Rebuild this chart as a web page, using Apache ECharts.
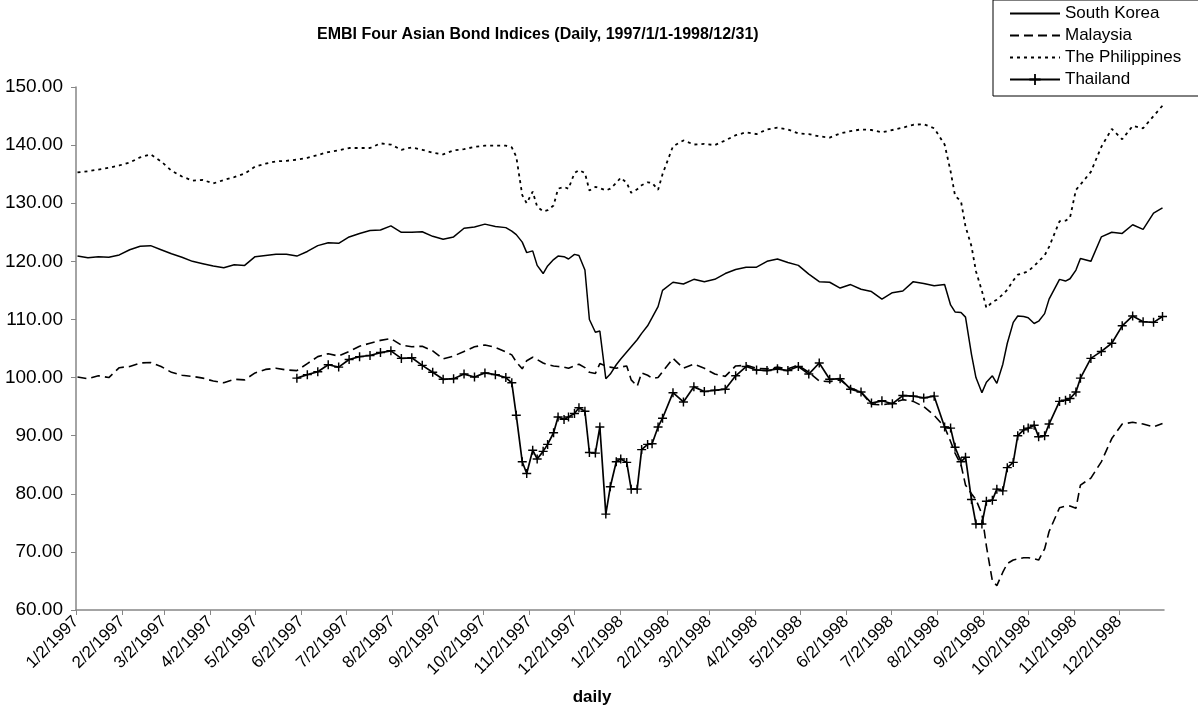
<!DOCTYPE html>
<html>
<head>
<meta charset="utf-8">
<title>EMBI Four Asian Bond Indices</title>
<script src="https://cdn.jsdelivr.net/npm/echarts@6/dist/echarts.min.js"></script>
<style>
  html, body { margin: 0; padding: 0; background: #fff; }
  #chart { width: 1198px; height: 711px; }
</style>
</head>
<body>
<div id="chart"></div>
<script>
// sample dates (weekly, twice a week in the two crash periods)
var dates = [
  '1997-01-03', '1997-01-10', '1997-01-17', '1997-01-24', '1997-01-31', '1997-02-07', '1997-02-14', '1997-02-21', '1997-02-28', '1997-03-07',
  '1997-03-14', '1997-03-21', '1997-03-28', '1997-04-04', '1997-04-11', '1997-04-18', '1997-04-25', '1997-05-02', '1997-05-09', '1997-05-16',
  '1997-05-23', '1997-05-30', '1997-06-06', '1997-06-13', '1997-06-20', '1997-06-27', '1997-07-04', '1997-07-11', '1997-07-18', '1997-07-25',
  '1997-08-01', '1997-08-08', '1997-08-15', '1997-08-22', '1997-08-29', '1997-09-05', '1997-09-12', '1997-09-19', '1997-09-26', '1997-10-03',
  '1997-10-10', '1997-10-17',
  '1997-10-21', '1997-10-24', '1997-10-28', '1997-10-31', '1997-11-04', '1997-11-07', '1997-11-11', '1997-11-14', '1997-11-18', '1997-11-21',
  '1997-11-25', '1997-11-28', '1997-12-02', '1997-12-05', '1997-12-09', '1997-12-12', '1997-12-16', '1997-12-19', '1997-12-23', '1997-12-26',
  '1997-12-30', '1998-01-02', '1998-01-06', '1998-01-09', '1998-01-13', '1998-01-16', '1998-01-20', '1998-01-23', '1998-01-27', '1998-01-30',
  '1998-02-06', '1998-02-13', '1998-02-20', '1998-02-27', '1998-03-06', '1998-03-13', '1998-03-20', '1998-03-27', '1998-04-03', '1998-04-10',
  '1998-04-17', '1998-04-24', '1998-05-01', '1998-05-08', '1998-05-15', '1998-05-22', '1998-05-29', '1998-06-05', '1998-06-12', '1998-06-19',
  '1998-06-26', '1998-07-03', '1998-07-10', '1998-07-17', '1998-07-24', '1998-07-31', '1998-08-07',
  '1998-08-11', '1998-08-14', '1998-08-18', '1998-08-21', '1998-08-25', '1998-08-28', '1998-09-01', '1998-09-04', '1998-09-08', '1998-09-11',
  '1998-09-15', '1998-09-18', '1998-09-22', '1998-09-25', '1998-09-29', '1998-10-02', '1998-10-06', '1998-10-09', '1998-10-13', '1998-10-16',
  '1998-10-23', '1998-10-27', '1998-10-30', '1998-11-03', '1998-11-06', '1998-11-13', '1998-11-20', '1998-11-27', '1998-12-04', '1998-12-11',
  '1998-12-18', '1998-12-25', '1998-12-31'
];

var southKorea = [
  120.9, 120.6, 120.8, 120.7, 121.1, 122.0, 122.6, 122.7, 122.0, 121.3,
  120.7, 120.0, 119.6, 119.2, 118.9, 119.4, 119.3, 120.8, 121.0, 121.2,
  121.2, 120.9, 121.7, 122.7, 123.2, 123.1, 124.2, 124.8, 125.3, 125.4,
  126.1, 125.0, 125.0, 125.1, 124.3, 123.8, 124.2, 125.7, 125.9, 126.4,
  126.0, 125.8,
  125.2, 124.6, 123.3, 121.5, 121.8, 119.3, 117.9, 119.2, 120.3, 120.9,
  120.8, 120.4, 121.2, 121.0, 118.5, 110.0, 107.8, 108.0, 99.8, 100.6,
  102.2, 103.2, 104.4, 105.3, 106.5, 107.6, 108.9, 110.3, 112.2, 115.0,
  116.4, 116.1, 116.9, 116.5, 116.9, 117.9, 118.6, 119.0, 119.0, 120.0,
  120.4, 119.8, 119.3, 117.8, 116.5, 116.4, 115.4, 116.0, 115.2, 114.8,
  113.5, 114.6, 114.9, 116.5, 116.2, 115.8, 116.0,
  112.5, 111.3, 111.2, 110.4, 104.0, 100.0, 97.4, 99.2, 100.3, 99.0,
  102.3, 105.9, 109.5, 110.6, 110.5, 110.3, 109.3, 109.7, 111.0, 113.5,
  116.9, 116.6, 117.0, 118.5, 120.5, 120.0, 124.2, 125.0, 124.8, 126.3,
  125.5, 128.3, 129.2
];

var malaysia = [
  100.1, 99.8, 100.3, 100.0, 101.7, 101.9, 102.5, 102.6, 101.9, 100.9,
  100.4, 100.2, 99.9, 99.4, 99.1, 99.7, 99.6, 100.8, 101.4, 101.6,
  101.3, 101.2, 102.4, 103.6, 104.1, 103.7, 104.5, 105.4, 105.9, 106.4,
  106.7, 105.6, 105.3, 105.4, 104.6, 103.2, 103.7, 104.5, 105.3, 105.6,
  105.2, 104.4,
  103.9, 102.7, 101.5, 102.9, 103.5, 103.1, 102.5, 102.2, 102.0, 101.9,
  101.8, 101.6, 102.0, 102.3, 101.7, 100.9, 100.7, 102.4, 102.0, 101.8,
  101.6, 101.8, 102.0, 99.6, 98.5, 100.8, 100.4, 99.9, 100.0, 101.0,
  103.3, 101.6, 102.3, 101.6, 100.6, 100.2, 102.0, 102.1, 101.6, 101.5,
  101.8, 101.5, 102.1, 100.9, 99.4, 99.3, 99.6, 98.2, 97.5, 95.4,
  95.3, 95.6, 96.2, 95.9, 95.0, 93.5, 91.5,
  89.0, 87.0, 85.0, 81.5, 80.0, 79.0, 76.5, 71.0, 65.0, 64.2,
  66.5, 68.0, 68.6, 68.8, 69.0, 69.0, 68.8, 68.6, 70.5, 73.5,
  77.6, 77.9, 77.9, 77.5, 81.5, 82.7, 85.5, 89.5, 92.0, 92.3,
  92.0, 91.5, 92.1
];

var philippines = [
  135.3, 135.5, 135.8, 136.1, 136.5, 137.0, 137.9, 138.4, 137.2, 135.6,
  134.6, 133.9, 134.0, 133.4, 134.0, 134.5, 135.1, 136.3, 136.8, 137.2,
  137.3, 137.5, 137.8, 138.3, 138.8, 139.1, 139.5, 139.5, 139.5, 140.3,
  140.1, 139.2, 139.6, 139.2, 138.7, 138.4, 139.1, 139.3, 139.7, 139.9,
  139.9, 139.9,
  139.6, 138.0, 131.4, 130.0, 132.0, 129.4, 128.6, 128.8, 129.6, 132.5,
  132.8, 132.5, 135.2, 135.7, 135.2, 132.2, 132.8, 132.6, 132.2, 132.5,
  133.5, 134.4, 133.5, 131.8, 132.4, 133.1, 133.6, 133.5, 132.3, 135.0,
  139.8, 140.8, 140.1, 140.2, 140.0, 140.8, 141.7, 142.2, 141.9, 142.7,
  143.0, 142.7, 142.0, 141.9, 141.5, 141.3, 142.0, 142.4, 142.7, 142.6,
  142.2, 142.6, 143.0, 143.5, 143.6, 142.9, 140.1,
  135.5, 131.3, 130.3, 126.0, 122.6, 118.3, 114.9, 112.0, 113.0, 113.4,
  114.3, 115.1, 116.7, 117.7, 118.0, 118.3, 119.2, 120.0, 121.0, 122.5,
  126.9, 127.0, 127.5, 132.3, 133.2, 135.4, 139.7, 142.8, 141.0, 143.3,
  142.9, 145.0, 146.8
];

// Thailand series starts in June 1997
var thailand = [
  null, null, null, null, null, null, null, null, null, null,
  null, null, null, null, null, null, null, null, null, null,
  null, 99.9, 100.5, 101.0, 102.2, 101.8, 103.1, 103.6, 103.8, 104.3,
  104.6, 103.3, 103.4, 102.1, 100.9, 99.7, 99.8, 100.6, 100.1, 100.8,
  100.5, 100.0,
  99.1, 93.5, 85.5, 83.5, 87.5, 86.0, 87.3, 88.5, 90.5, 93.2,
  92.8, 93.2, 93.8, 94.8, 94.2, 87.1, 87.0, 91.5, 76.5, 81.2,
  85.5, 86.0, 85.4, 80.8, 80.8, 87.6, 88.5, 88.6, 91.5, 93.0,
  97.4, 95.8, 98.4, 97.6, 97.8, 98.0, 100.3, 101.9, 101.3, 101.2,
  101.5, 101.2, 101.9, 100.6, 102.5, 99.7, 99.8, 98.0, 97.5, 95.6,
  96.0, 95.5, 96.9, 96.8, 96.5, 96.8, 91.5,
  91.3, 88.0, 85.5, 86.3, 79.0, 74.8, 74.8, 78.7, 78.9, 80.8,
  80.5, 84.5, 85.4, 90.0, 91.0, 91.3, 91.8, 89.8, 90.0, 92.0,
  95.9, 96.1, 96.4, 97.5, 99.9, 103.3, 104.5, 105.9, 108.9, 110.6,
  109.6, 109.5, 110.5
];

var tickLabels = [
  '1/2/1997', '2/2/1997', '3/2/1997', '4/2/1997', '5/2/1997', '6/2/1997',
  '7/2/1997', '8/2/1997', '9/2/1997', '10/2/1997', '11/2/1997', '12/2/1997',
  '1/2/1998', '2/2/1998', '3/2/1998', '4/2/1998', '5/2/1998', '6/2/1998',
  '7/2/1998', '8/2/1998', '9/2/1998', '10/2/1998', '11/2/1998', '12/2/1998'
];

// dates become day numbers (UTC ms / 1 day) on a plain value axis
var DAY = 86400000;
function isoToDay(s) {
  var p = s.split('-');
  return Date.UTC(+p[0], +p[1] - 1, +p[2]) / DAY;
}
function mdyToDay(s) {
  var p = s.split('/');
  return Date.UTC(+p[2], +p[0] - 1, +p[1]) / DAY;
}
var tickDays = tickLabels.map(mdyToDay);

function pairs(vals) {
  return dates.map(function (d, i) { return [isoToDay(d), vals[i]]; });
}

var plusSymbol = 'path://M4.2,0H5.8V4.2H10V5.8H5.8V10H4.2V5.8H0V4.2H4.2Z';
var axisGray = '#868686';
var font = 'Liberation Sans, Arial, sans-serif';

var myChart = echarts.init(document.getElementById('chart'));
var option = {
  animation: false,
  textStyle: { fontFamily: font },
  title: {
    text: 'EMBI Four Asian Bond Indices (Daily, 1997/1/1-1998/12/31)',
    left: 312,
    top: 22,
    textStyle: { fontSize: 16, fontWeight: 'bold', color: '#000', fontFamily: font }
  },
  legend: {
    orient: 'vertical',
    left: 993,
    top: 0,
    padding: [5, 20, 8, 16],
    itemWidth: 50,
    itemHeight: 14,
    itemGap: 5,
    borderColor: '#000',
    borderWidth: 1,
    backgroundColor: '#fff',
    textStyle: { fontSize: 17, color: '#000', fontFamily: font },
    // line-only icons for the three series without markers
    data: [
      { name: 'South Korea', itemStyle: { opacity: 0 } },
      { name: 'Malaysia', itemStyle: { opacity: 0 } },
      { name: 'The Philippines', itemStyle: { opacity: 0 } },
      { name: 'Thailand' }
    ]
  },
  grid: {
    left: 76,
    right: 34,
    top: 87,
    bottom: 101,
    containLabel: false,
    outerBoundsMode: 'none'
  },
  xAxis: {
    type: 'value',
    min: mdyToDay('1/2/1997'),
    max: mdyToDay('1/1/1999'),
    name: 'daily',
    nameLocation: 'middle',
    nameGap: 79,
    nameTextStyle: { fontSize: 17, fontWeight: 'bold', color: '#000', padding: [0, 56, 0, 0] },
    axisLine: { lineStyle: { color: axisGray, width: 1.5 } },
    axisTick: { show: true, length: 5, lineStyle: { color: axisGray }, customValues: tickDays },
    axisLabel: {
      rotate: 45,
      fontSize: 17,
      color: '#000',
      margin: 9,
      customValues: tickDays,
      formatter: function (v) {
        var i = tickDays.indexOf(v);
        return i >= 0 ? tickLabels[i] : '';
      }
    },
    splitLine: { show: false }
  },
  yAxis: {
    type: 'value',
    min: 60,
    max: 150,
    interval: 10,
    axisLine: { show: true, lineStyle: { color: axisGray, width: 1.5 } },
    axisTick: { show: true, length: 5, lineStyle: { color: axisGray } },
    axisLabel: {
      fontSize: 19,
      color: '#000',
      margin: 13,
      formatter: function (v) { return v.toFixed(2); }
    },
    splitLine: { show: false }
  },
  series: [
    {
      name: 'South Korea',
      type: 'line',
      symbol: 'none',
      data: pairs(southKorea),
      lineStyle: { color: '#000', width: 1.5 },
      itemStyle: { color: '#000' }
    },
    {
      name: 'Malaysia',
      type: 'line',
      symbol: 'none',
      data: pairs(malaysia),
      lineStyle: { color: '#000', width: 1.6, type: [9, 5] },
      itemStyle: { color: '#000' }
    },
    {
      name: 'The Philippines',
      type: 'line',
      symbol: 'none',
      data: pairs(philippines),
      lineStyle: { color: '#000', width: 1.8, type: [3, 4] },
      itemStyle: { color: '#000' }
    },
    {
      name: 'Thailand',
      type: 'line',
      symbol: plusSymbol,
      symbolSize: 9,
      showSymbol: true,
      data: pairs(thailand),
      lineStyle: { color: '#000', width: 1.7 },
      itemStyle: { color: '#000' },
      z: 3
    }
  ]
};
myChart.setOption(option);
window.addEventListener('resize', function () {
  myChart.resize();
});
</script>
</body>
</html>
